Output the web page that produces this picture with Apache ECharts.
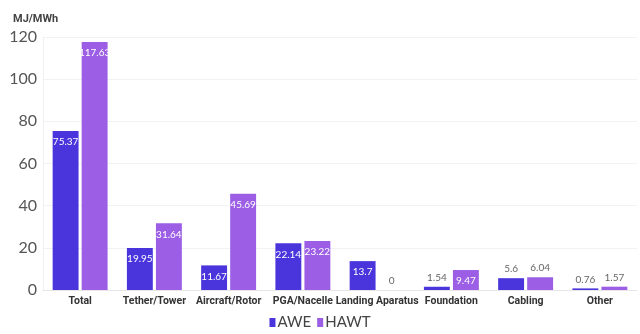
<!DOCTYPE html>
<html>
<head>
<meta charset="utf-8">
<script src="https://cdn.jsdelivr.net/npm/echarts@6/dist/echarts.min.js"></script>
<style>
  html, body { margin: 0; padding: 0; background: #fff; }
  #chart { width: 640px; height: 334px; }
</style>
</head>
<body>
<div id="chart"></div>
<script>
// Embodied energy per component, MJ/MWh
const categories = ['Total', 'Tether/Tower', 'Aircraft/Rotor', 'PGA/Nacelle', 'Landing Aparatus', 'Foundation', 'Cabling', 'Other'];
const aweValues = [75.37, 19.95, 11.67, 22.14, 13.7, 1.54, 5.6, 0.76];
const hawtValues = [117.63, 31.64, 45.69, 23.22, 0, 9.47, 6.04, 1.57];
const yTicks = [0, 20, 40, 60, 80, 100, 120];

const FONT = 'Lato, "Noto Sans", sans-serif';
const BOLD_FONT = 'Roboto, "Noto Sans", sans-serif';

// Tall bars carry a white label inside their top; short ones get a grey label above.
function withLabels(values) {
  return values.map(v => {
    const inside = v >= 9;
    return {
      value: v,
      label: inside
        ? { position: 'insideTop', color: '#ffffff', distance: 6 }
        : { position: 'top', color: '#666666', distance: 4 }
    };
  });
}

const chart = echarts.init(document.getElementById('chart'), null, { renderer: 'canvas' });
chart.setOption({
  animation: false,
  textStyle: { fontFamily: FONT },
  grid: { left: 43, right: 3, top: 37, bottom: 44 },
  legend: {
    bottom: -1,
    left: 'center',
    itemWidth: 6,
    itemHeight: 9,
    itemGap: 6,
    icon: 'rect',
    textStyle: { fontSize: 15, color: '#444', fontFamily: FONT, padding: [0, 0, 0, -3] },
    data: ['AWE', 'HAWT']
  },
  xAxis: {
    type: 'category',
    data: categories,
    axisTick: { show: false },
    axisLine: { lineStyle: { color: '#e6e6e6' } },
    axisLabel: { color: '#333', fontSize: 10.5, fontWeight: 'bold', margin: 6, interval: 0, fontFamily: BOLD_FONT }
  },
  yAxis: {
    type: 'value',
    min: 0,
    max: yTicks[yTicks.length - 1],
    interval: 20,
    name: 'MJ/MWh',
    nameLocation: 'end',
    nameGap: 12,
    nameTextStyle: { color: '#444', fontSize: 11, fontWeight: 'bold', align: 'left', padding: [0, 0, 0, -30], fontFamily: BOLD_FONT },
    axisLine: { show: true, lineStyle: { color: '#f0f0f0' } },
    axisTick: { show: false },
    splitLine: { lineStyle: { color: '#f2f2f2' } },
    axisLabel: { color: '#555', fontSize: 16, margin: 6, fontFamily: FONT }
  },
  series: [
    {
      name: 'AWE',
      type: 'bar',
      data: withLabels(aweValues),
      itemStyle: { color: '#4a35dd' },
      barGap: '12%',
      barCategoryGap: '26%',
      label: { show: true, fontSize: 10, fontFamily: FONT }
    },
    {
      name: 'HAWT',
      type: 'bar',
      data: withLabels(hawtValues),
      itemStyle: { color: '#9b5ee4' },
      label: { show: true, fontSize: 10, fontFamily: FONT }
    }
  ]
});
</script>
</body>
</html>
